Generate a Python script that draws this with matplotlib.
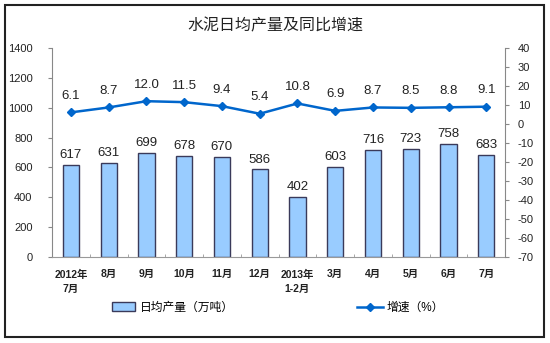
import matplotlib.pyplot as plt
from matplotlib.patches import Rectangle
import numpy as np

plt.rcParams['font.family'] = ['Liberation Sans', 'Noto Sans CJK SC', 'DejaVu Sans']
plt.rcParams['axes.unicode_minus'] = False

# 数据
meses = ['2012年\n7月', '8月', '9月', '10月', '11月', '12月',
         '2013年\n1-2月', '3月', '4月', '5月', '6月', '7月']
produccion = [617, 631, 699, 678, 670, 586, 402, 603, 716, 723, 758, 683]
crecimiento = [6.1, 8.7, 12.0, 11.5, 9.4, 5.4, 10.8, 6.9, 8.7, 8.5, 8.8, 9.1]

fig = plt.figure(figsize=(5.5, 3.43), dpi=100)
ax = fig.add_axes([0.0945, 0.251, 0.824, 0.609])
x = np.arange(len(meses))

barras = ax.bar(x, produccion, width=0.43, color='#99CCFF', edgecolor='#3A3A5A',
                linewidth=1.0, label='日均产量（万吨）')
for xi, v in zip(x, produccion):
    ax.text(xi, v + 25, str(v), ha='center', va='bottom', fontsize=9.5, color='#222222')

ax.set_xlim(-0.5, len(meses) - 0.5)
ax.set_ylim(0, 1400)
ax.set_yticks(range(0, 1401, 200))
ax.set_xticks(x)
ax.set_xticklabels(meses, fontsize=7.5, color='#222222', fontweight='bold', linespacing=1.5)
ax.set_xticks(np.arange(-0.5, len(meses), 1), minor=True)
ax.tick_params(axis='x', which='major', length=0, pad=9)
ax.tick_params(axis='x', which='minor', length=2, direction='in', color='#999999')
ax.tick_params(axis='y', labelsize=8, length=3, color='#888888', labelcolor='#222222', pad=11)
for s in ['top', 'right']:
    ax.spines[s].set_visible(False)
ax.spines['left'].set_color('#888888')
ax.spines['bottom'].set_color('#999999')

ax2 = ax.twinx()
linea, = ax2.plot(x, crecimiento, color='#0066CC', linewidth=1.8, marker='D',
                  markersize=4, label='增速（%）')
for xi, v in zip(x, crecimiento):
    ax2.text(xi, v + 5.5, f'{v:.1f}', ha='center', va='bottom', fontsize=9.5, color='#222222')
ax2.set_ylim(-70, 40)
ax2.set_yticks(range(-70, 41, 10))
ax2.tick_params(axis='y', labelsize=8, length=3, color='#888888', labelcolor='#222222', pad=6)
for s in ['top', 'left', 'bottom']:
    ax2.spines[s].set_visible(False)
ax2.spines['right'].set_color('#888888')

fig.text(0.5, 0.925, '水泥日均产量及同比增速', ha='center', va='center',
         fontsize=11.5, color='#222222')

fig.legend(handles=[barras], loc='center left', bbox_to_anchor=(0.185, 0.103),
           frameon=False, fontsize=8.5, handlelength=1.9, handleheight=0.8,
           handletextpad=0.4)
fig.legend(handles=[linea], loc='center left', bbox_to_anchor=(0.63, 0.103),
           frameon=False, fontsize=8.5, handlelength=2.2, handletextpad=0.3)

# 外框
fig.patches.append(Rectangle((5 / 550, 1 - 337 / 343), 539 / 550, 332 / 343,
                             transform=fig.transFigure, fill=False,
                             edgecolor='#222222', linewidth=1.5))

plt.savefig('out.png', dpi=100)
